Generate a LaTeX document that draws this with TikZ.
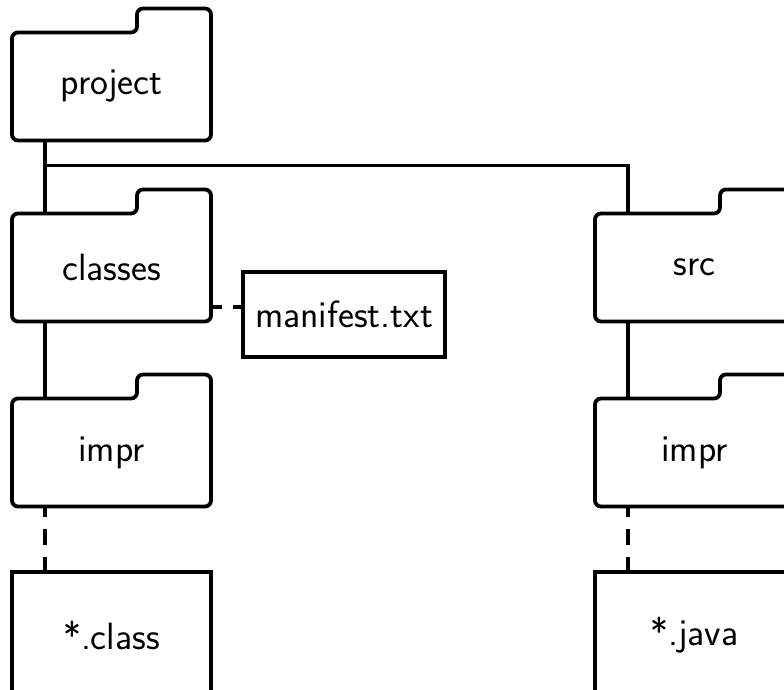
\documentclass[tikz,border=0pt]{standalone}
\usetikzlibrary{calc}
\begin{document}
\begin{tikzpicture}[x=1pt,y=1pt,
  lbl/.style={font=\sffamily\fontsize{38}{43}\selectfont},
  folder/.style={lbl,minimum width=199pt,minimum height=108pt,inner sep=0pt,outer sep=0pt},
  filebox/.style={lbl,draw,line width=3.8pt,inner sep=0pt,outer sep=0pt},
  outline/.style={draw,line width=3.8pt,rounded corners=6pt,line join=round},
  conn/.style={line width=3.8pt},
  dconn/.style={line width=3.8pt,dash pattern=on 16pt off 12pt,dash phase=6pt}]
\useasboundingbox (0,0) rectangle (784,-690);
\clip (0,0) rectangle (784,-690);
% folders
\node[folder] (project) at (111.5,-86.5) {project};
\node[folder] (classes) at (111.5,-267.5) {classes};
\node[folder] (impra) at (111.5,-452.5) {impr};
\node[folder] (src) at (694.5,-267.5) {src};
\node[folder] (imprb) at (694.5,-452.5) {impr};
\foreach \n in {project,classes,impra,src,imprb}
  \draw[outline] (\n.south west) -- (\n.north west) -- ([xshift=-74]\n.north east)
    -- ([xshift=-74,yshift=24]\n.north east) -- ([yshift=24]\n.north east)
    -- (\n.south east) -- cycle;
% files
\node[filebox,minimum width=202pt,minimum height=85pt] (manifest) at (344,-314.5) {manifest.txt};
\node[filebox,minimum width=199pt,minimum height=126pt] (class) at (111.5,-635) {*.class};
\node[filebox,minimum width=199pt,minimum height=126pt] (java) at (694.5,-635) {*.java};
% connectors
\coordinate (pa) at ([xshift=33]project.south west);
\coordinate (ca) at ([xshift=33]classes.south west);
\coordinate (ia) at ([xshift=33]impra.south west);
\coordinate (sa) at ([xshift=33]src.south west);
\coordinate (ib) at ([xshift=33]imprb.south west);
\coordinate (j) at ($(pa)+(0,-25)$);
\draw[conn] (pa) -- (pa |- classes.north);
\draw[conn] (j) -| (sa |- src.north);
\draw[conn] (ca) -- (ca |- impra.north);
\draw[conn] (sa) -- (sa |- imprb.north);
\draw[dconn] (ia) -- (ia |- class.north);
\draw[dconn] (ib) -- (ib |- java.north);
\coordinate (m1) at ([yshift=-39.5]classes.east);
\draw[conn,dash pattern=on 11pt off 11pt] (m1) -- (m1 -| manifest.west);
\end{tikzpicture}
\end{document}
